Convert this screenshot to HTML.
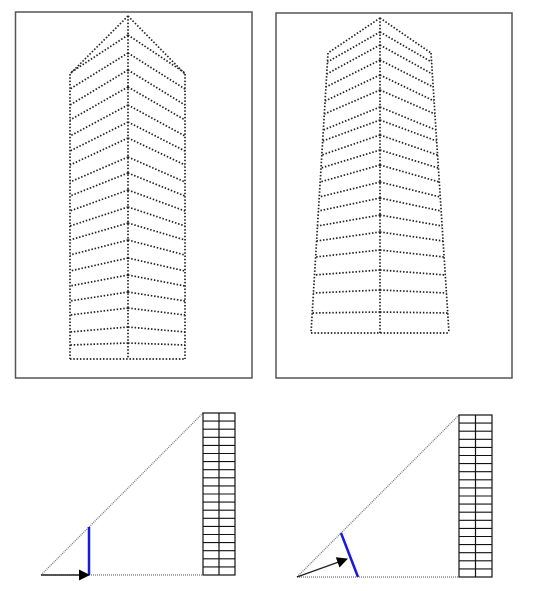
<!DOCTYPE html>
<html><head><meta charset="utf-8"><style>
html,body{margin:0;padding:0;background:#fff;}
svg{display:block;}
</style></head><body>
<svg id="fig" width="546" height="591" viewBox="0 0 546 591" xmlns="http://www.w3.org/2000/svg">
<rect x="15.5" y="12" width="236.5" height="366" fill="none" stroke="#555" stroke-width="1.5"/>
<rect x="276" y="13" width="236" height="365" fill="none" stroke="#555" stroke-width="1.5"/>
<g id="bl"></g>
<g id="br"></g>
</svg>
<script>
// Left building: chevron floor lines (center y, drop to side)
const leftCenterY=[35,53,70,87,105,122,138,157,173,190,207,223,240,258,275,292,308,327,343];
const leftDrop=[38,36,35,33,31,29,27,25,23,21,19,17,15,13,11,9,7,5,2];
// Right building: chevron floor lines
const rightCenterY=[32,45,60,75,90,107,120,135,150,165,182,198,215,232,250,270,290,312];
const rightDrop=[30,29,27,26,24,23,21,20,18,17,15,13,11,9,7,5,3,1];
const gridRows=20;

const NS='http://www.w3.org/2000/svg';
const svg=document.getElementById('fig');
function mk(tag,attrs,parent){const e=document.createElementNS(NS,tag);for(const k in attrs)e.setAttribute(k,attrs[k]);(parent||svg).appendChild(e);return e;}
const dot={stroke:'#222','stroke-width':1.7,'stroke-dasharray':'1.5 1.8','fill':'none','stroke-linecap':'butt'};
const lightDot={stroke:'#777','stroke-width':1.3,'stroke-dasharray':'1 1','fill':'none'};
function dl(x1,y1,x2,y2,name,parent,style){const e=mk('line',Object.assign({x1,y1,x2,y2},style||dot),parent);

return e;}

// left building outline
(function(){
 const cx=128,L=70,R=185,apex=16,sh=74,bot=359;
 dl(cx,apex,L,sh,'left-roof-left');dl(cx,apex,R,sh,'left-roof-right');
 dl(L,sh,L,bot,'left-wall-left');dl(R,sh,R,bot,'left-wall-right');
 dl(cx,apex,cx,bot,'left-center-axis');dl(L,bot,R,bot,'left-base');
 leftCenterY.forEach((y,i)=>{
  dl(cx,y,L,y+leftDrop[i],'left-floor-line');dl(cx,y,R,y+leftDrop[i],'left-floor-line');
 });
})();
// right building outline (tapered)
(function(){
 const cx=380,apex=18,sh=53,bot=333,Lt=328,Rt=431,Lb=311,Rb=449;
 const lx=y=>Lt+(Lb-Lt)*(y-sh)/(bot-sh), rx=y=>Rt+(Rb-Rt)*(y-sh)/(bot-sh);
 dl(cx,apex,Lt,sh,'right-roof-left');dl(cx,apex,Rt,sh,'right-roof-right');
 dl(Lt,sh,Lb,bot,'right-wall-left');dl(Rt,sh,Rb,bot,'right-wall-right');
 dl(cx,apex,cx,bot,'right-center-axis');dl(Lb,bot,Rb,bot,'right-base');
 rightCenterY.forEach((y,i)=>{
  const ys=Math.max(y+rightDrop[i],sh);
  dl(cx,y,lx(ys),ys,'right-floor-line');dl(cx,y,rx(ys),ys,'right-floor-line');
 });
})();
// arrow marker
const defs=mk('defs',{});
const mkr=mk('marker',{id:'ah',markerWidth:11,markerHeight:11,refX:10,refY:5.5,orient:'auto',markerUnits:'userSpaceOnUse'},defs);
mk('path',{d:'M0,0 L11,5.5 L0,11 Z',fill:'#000'},mkr);
// bottom diagrams
function diagram(g,apexX,gx,gw,top,bot,blue,arrow){
 const p=document.getElementById(g);
 dl(apexX,bot,gx,top,'wind-diagonal',p,lightDot);
 dl(apexX,bot,gx,bot,'ground-line',p,lightDot);
 const r=mk('rect',{x:gx,y:top,width:gw,height:bot-top,fill:'none',stroke:'#111','stroke-width':1.2},p);
 
 
 const m=mk('line',{x1:gx+gw/2,y1:top,x2:gx+gw/2,y2:bot,stroke:'#111','stroke-width':1.2},p);
 
 
 for(let i=1;i<gridRows;i++){const y=top+(bot-top)*i/gridRows;
  const l=mk('line',{x1:gx,y1:y,x2:gx+gw,y2:y,stroke:'#111','stroke-width':1.1},p);
  
  }
 const b=mk('line',{x1:blue[0],y1:blue[1],x2:blue[2],y2:blue[3],stroke:'#1a1adc','stroke-width':2.5},p);
 
 
 const a=mk('line',{x1:apexX,y1:bot,x2:arrow[0],y2:arrow[1],stroke:'#222','stroke-width':1.4,'marker-end':'url(#ah)'},p);
 
 
}
diagram('bl',41,203,32,413,575,[89,527,89,575],[89,575]);
diagram('br',297,459,33,415,577,[341,533,358,577],[347,559]);
</script>
</body></html>
